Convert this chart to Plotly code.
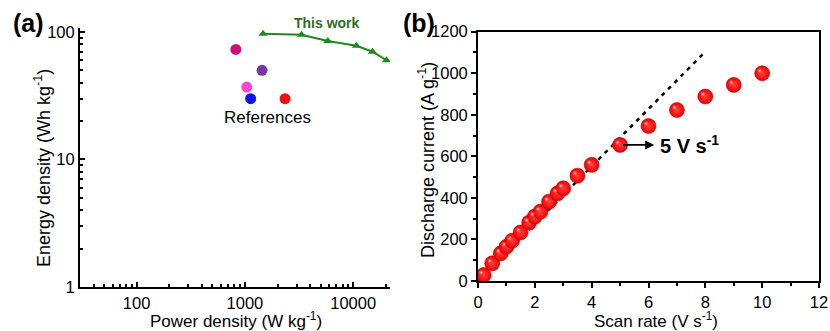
import plotly.graph_objects as go

# ---- panel (a): Ragone plot ----
work_power = [1470, 3330, 5830, 10700, 15100, 20300]
work_energy = [97, 95, 85, 78, 70, 60]

ref_power = [825, 1440, 1040, 1130, 2350]
ref_energy = [73, 50, 37, 30, 30]
ref_colors = ["#C8127A", "#7636A6", "#FF44D4", "#0A14F0", "#F01010"]

# ---- panel (b): discharge current vs scan rate ----
scan_rate = [0.2, 0.5, 0.8, 1.0, 1.2, 1.5, 1.8, 2.0, 2.2, 2.5, 2.8, 3.0,
             3.5, 4, 5, 6, 7, 8, 9, 10]
discharge = [29, 85, 133, 165, 194, 234, 281, 310, 334, 382, 422, 446,
             507, 559, 655, 746, 823, 888, 944, 1000]
fit_x = [0, 8]
fit_y = [0, 1104]

W, H = 830, 331
FONT = "Liberation Sans, Arial, sans-serif"

# pixel geometry of the two plot areas
AX_L, AX_R, AX_T, AX_B = 80, 390, 28, 287
BX_L, BX_R, BX_T, BX_B = 478, 819, 31.7, 281
BX_RANGE, BY_RANGE = [0, 12], [0, 1200]


def px(x):
    return x / W


def py(y):
    return 1 - y / H


# small glossy highlight on each sphere, shifted up-left by a few pixels
dx = -2.5 * (BX_RANGE[1] - BX_RANGE[0]) / (BX_R - BX_L)
dy = 2.5 * (BY_RANGE[1] - BY_RANGE[0]) / (BX_B - BX_T)
hl_x = [v + dx for v in scan_rate]
hl_y = [v + dy for v in discharge]

fig = go.Figure()

fig.add_trace(go.Scatter(
    x=work_power, y=work_energy, mode="lines+markers",
    line=dict(color="#1E8A1E", width=2),
    marker=dict(symbol="triangle-up", size=8, color="#1E8A1E"),
    xaxis="x", yaxis="y", showlegend=False))

fig.add_trace(go.Scatter(
    x=ref_power, y=ref_energy, mode="markers",
    marker=dict(size=11, color=ref_colors),
    xaxis="x", yaxis="y", showlegend=False))

fig.add_trace(go.Scatter(
    x=fit_x, y=fit_y, mode="lines",
    line=dict(color="black", width=2.5, dash="4px,5px"),
    xaxis="x2", yaxis="y2", showlegend=False))

fig.add_trace(go.Scatter(
    x=scan_rate, y=discharge, mode="markers",
    marker=dict(size=15, color="#F00000",
                gradient=dict(type="radial", color="#FF4040"),
                line=dict(color="#C00000", width=0.6)),
    xaxis="x2", yaxis="y2", showlegend=False))

fig.add_trace(go.Scatter(
    x=hl_x, y=hl_y, mode="markers", hoverinfo="skip",
    marker=dict(size=6, color="rgba(255,60,60,0)",
                gradient=dict(type="radial", color="rgba(255,235,235,0.95)"),
                line=dict(width=0)),
    xaxis="x2", yaxis="y2", showlegend=False))

tickfont = dict(family=FONT, size=16.5, color="black")

fig.update_layout(
    width=W, height=H,
    margin=dict(l=0, r=0, t=0, b=0),
    paper_bgcolor="white", plot_bgcolor="white",
    font=dict(family=FONT, color="black"),
    xaxis=dict(
        type="log", domain=[px(AX_L), px(AX_R)], range=[1.477, 4.34],
        showline=True, linecolor="black", linewidth=2,
        ticks="inside", ticklen=5, tickwidth=1.5, tickcolor="black",
        tickvals=[100, 1000, 10000], ticktext=["100", "1000", "10000"],
        minor=dict(ticks="inside", ticklen=3, tickcolor="black",
                   tickvals=[40, 50, 60, 70, 80, 90, 200, 300, 400, 500, 600, 700, 800, 900,
                             2000, 3000, 4000, 5000, 6000, 7000, 8000, 9000, 20000]),
        showgrid=False, zeroline=False, tickfont=tickfont, anchor="y",
        ticklabelstandoff=0, automargin=False),
    yaxis=dict(
        type="log", domain=[py(AX_B), py(AX_T)], range=[0, 2.031],
        showline=True, linecolor="black", linewidth=2,
        ticks="inside", ticklen=5, tickwidth=1.5, tickcolor="black",
        tickvals=[1, 10, 100], ticktext=["1", "10", "100"],
        minor=dict(ticks="inside", ticklen=3, tickcolor="black",
                   tickvals=[2, 3, 4, 5, 6, 7, 8, 9, 20, 30, 40, 50, 60, 70, 80, 90]),
        showgrid=False, zeroline=False, tickfont=tickfont, anchor="x",
        automargin=False),
    xaxis2=dict(
        domain=[px(BX_L), px(BX_R)], range=BX_RANGE,
        showline=True, linecolor="black", linewidth=1.8, mirror=True,
        ticks="outside", ticklen=5, tickwidth=1.5, tickcolor="black",
        tick0=0, dtick=2,
        minor=dict(ticks="outside", ticklen=3, tickcolor="black", dtick=1),
        showgrid=False, zeroline=False, tickfont=tickfont, anchor="y2",
        ticklabelstandoff=0, automargin=False),
    yaxis2=dict(
        domain=[py(BX_B), py(BX_T)], range=BY_RANGE,
        showline=True, linecolor="black", linewidth=1.8, mirror=True,
        ticks="outside", ticklen=5, tickwidth=1.5, tickcolor="black",
        tick0=0, dtick=200,
        minor=dict(ticks="outside", ticklen=3, tickcolor="black", dtick=100),
        showgrid=False, zeroline=False, tickfont=tickfont, anchor="x2",
        automargin=False),
)

annotations = [
    # panel labels
    dict(text="<b>(a)</b>", x=px(28), y=py(23), font=dict(size=25, color="black")),
    dict(text="<b>(b)</b>", x=px(419), y=py(23), font=dict(size=25, color="black")),
    # axis titles
    dict(text="Power density (W kg<sup>-1</sup>)", x=px(236), y=py(320),
         font=dict(size=17, color="black")),
    dict(text="Energy density (Wh kg<sup>-1</sup>)", x=px(42), y=py(168),
         textangle=-90, font=dict(size=18, color="black")),
    dict(text="Scan rate (V s<sup>-1</sup>)", x=px(656), y=py(320),
         font=dict(size=17, color="black")),
    dict(text="Discharge current (A g<sup>-1</sup>)", x=px(426), y=py(160),
         textangle=-90, font=dict(size=18, color="black")),
    # panel (a) labels
    dict(text="<b>This work</b>", x=px(327), y=py(23), font=dict(size=14, color="#2F6E1E")),
    dict(text="References", x=px(267), y=py(118), font=dict(size=17, color="black")),
]
for a in annotations:
    a.update(xref="paper", yref="paper", showarrow=False,
             xanchor="center", yanchor="middle")
    a["font"] = dict(family=FONT, **a["font"])
fig.update_layout(annotations=annotations)

# arrow pointing to the 5 V/s point
i5 = scan_rate.index(5)
fig.add_annotation(
    x=6.2, y=discharge[i5], ax=5.05, ay=discharge[i5],
    xref="x2", yref="y2", axref="x2", ayref="y2",
    showarrow=True, arrowhead=2, arrowsize=1, arrowwidth=1.8, arrowcolor="black", text="")
fig.add_annotation(
    x=6.35, y=discharge[i5], xref="x2", yref="y2",
    xanchor="left", yanchor="middle", showarrow=False,
    text="<b>5 V s<sup>-1</sup></b>", font=dict(family=FONT, size=20, color="black"))

fig.write_html("out.html")
